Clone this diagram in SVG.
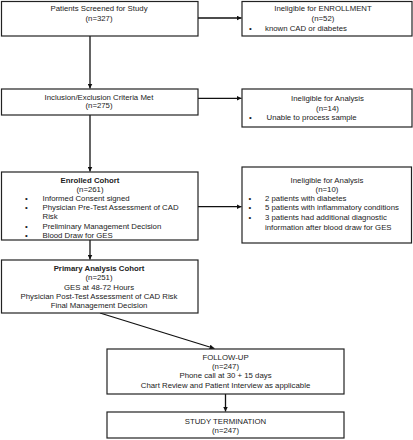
<svg xmlns="http://www.w3.org/2000/svg" width="413" height="440" viewBox="0 0 413 440">
<defs>
<marker id="ah" viewBox="0 0 10 10" refX="10" refY="5" markerWidth="5" markerHeight="5" orient="auto" markerUnits="userSpaceOnUse">
<path d="M0,0 L10,5 L0,10 z" fill="#111"/>
</marker>
<style>
.box{fill:#fff;stroke:#222;stroke-width:1.2}
text{font-family:"Liberation Sans",Arial,sans-serif;font-size:7.8px;fill:#222}
.c{text-anchor:middle}
.b{font-weight:bold}
.con{stroke:#111;stroke-width:1.3;fill:none;marker-end:url(#ah)}
</style>
</defs>
<rect width="413" height="440" fill="#fff"/>
<g id="connectors">
<line class="con" x1="90" y1="36" x2="90" y2="88.5"/>
<line class="con" x1="90" y1="115" x2="90" y2="171.5"/>
<line class="con" x1="90" y1="240" x2="90" y2="259.5"/>
<line class="con" x1="198" y1="18" x2="241.5" y2="18"/>
<line class="con" x1="198" y1="98.3" x2="241.5" y2="98.3"/>
<line class="con" x1="198" y1="206.7" x2="241.5" y2="206.7"/>
<line class="con" x1="100" y1="313" x2="214.5" y2="348.5"/>
<line class="con" x1="225.5" y1="394" x2="225.5" y2="411.5"/>
</g>
<g id="screened">
<rect class="box" x="1.5" y="1.5" width="196.5" height="34.5"/>
<text class="c" x="99" y="11.2">Patients Screened for Study</text>
<text class="c" x="99" y="20.8">(n=327)</text>
</g>
<g id="inelig-enroll">
<rect class="box" x="242" y="1.5" width="170" height="34.5"/>
<text class="c" x="323" y="11.2">Ineligible for ENROLLMENT</text>
<text class="c" x="323" y="20.8">(n=52)</text>
<text x="249" y="30.5">•</text>
<text x="265" y="30.5">known CAD or diabetes</text>
</g>
<g id="inclusion">
<rect class="box" x="1.5" y="89" width="196.5" height="26"/>
<text class="c" x="99" y="99.5">Inclusion/Exclusion Criteria Met</text>
<text class="c" x="99" y="108">(n=275)</text>
</g>
<g id="inelig-14">
<rect class="box" x="242" y="89" width="170" height="38"/>
<text class="c" x="327.5" y="101">Ineligible for Analysis</text>
<text class="c" x="327.5" y="110.8">(n=14)</text>
<text x="249" y="120">•</text>
<text x="266.5" y="120">Unable to process sample</text>
</g>
<g id="enrolled">
<rect class="box" x="1.5" y="172" width="196.5" height="68"/>
<text class="c b" x="90" y="182.8">Enrolled Cohort</text>
<text class="c" x="90" y="191.8">(n=261)</text>
<text x="25" y="200.5">•</text>
<text x="42.5" y="200.5">Informed Consent signed</text>
<text x="25" y="210">•</text>
<text x="42.5" y="210">Physician Pre-Test Assessment of  CAD</text>
<text x="42.5" y="218.8">Risk</text>
<text x="25" y="228.8">•</text>
<text x="42.5" y="228.8">Preliminary Management Decision</text>
<text x="25" y="237.8">•</text>
<text x="42.5" y="237.8">Blood Draw for GES</text>
</g>
<g id="inelig-10">
<rect class="box" x="242" y="167" width="169.5" height="76"/>
<text class="c" x="327" y="182.8">Ineligible for Analysis</text>
<text class="c" x="327" y="191.8">(n=10)</text>
<text x="248.5" y="200.5">•</text>
<text x="265" y="200.5">2 patients with diabetes</text>
<text x="248.5" y="209.8">•</text>
<text x="265" y="209.8">5 patients with inflammatory conditions</text>
<text x="248.5" y="219.5">•</text>
<text x="265" y="219.5">3 patients had additional diagnostic</text>
<text x="265" y="229.5">information after blood draw for GES</text>
</g>
<g id="primary">
<rect class="box" x="1.5" y="260" width="196.5" height="53"/>
<text class="c b" x="99" y="271">Primary Analysis Cohort</text>
<text class="c" x="99" y="280">(n=251)</text>
<text class="c" x="99" y="289.5">GES at 48-72 Hours</text>
<text class="c" x="99" y="298.8">Physician Post-Test Assessment of CAD Risk</text>
<text class="c" x="99" y="307.8">Final Management Decision</text>
</g>
<g id="followup">
<rect class="box" x="107" y="349" width="237" height="45"/>
<text class="c" x="225.5" y="359.8">FOLLOW-UP</text>
<text class="c" x="225.5" y="369.2">(n=247)</text>
<text class="c" x="225.5" y="378.3">Phone call at 30 + 15 days</text>
<text class="c" x="225.5" y="387.8">Chart Review and Patient Interview as applicable</text>
</g>
<g id="termination">
<rect class="box" x="107" y="412" width="237" height="26"/>
<text class="c" x="225.5" y="423.8">STUDY TERMINATION</text>
<text class="c" x="225.5" y="432.8">(n=247)</text>
</g>
</svg>
